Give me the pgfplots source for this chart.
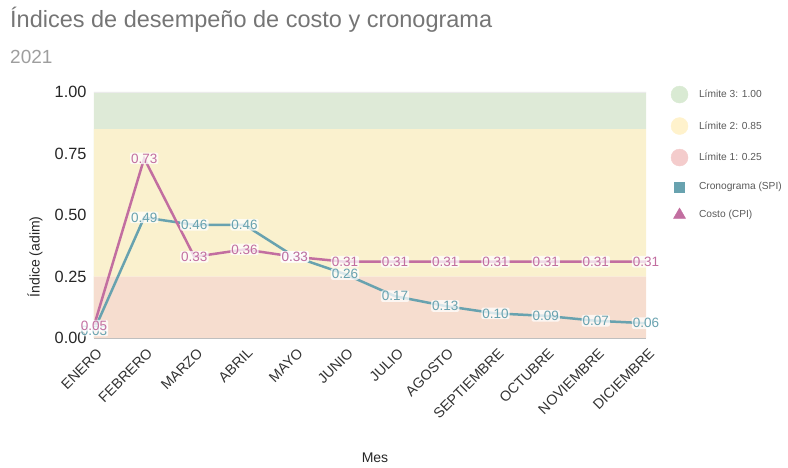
\documentclass[border=0pt]{standalone}
\usepackage{pgfplots}
\pgfplotsset{compat=1.18}
\usepackage{pgfplotstable}
\usepackage{fontspec}
\setmainfont{Liberation Sans}
\definecolor{spi}{RGB}{104,162,175}
\definecolor{cpi}{RGB}{194,110,160}
\definecolor{bgreen}{RGB}{222,234,215}
\definecolor{byellow}{RGB}{250,241,206}
\definecolor{bpink}{RGB}{246,221,207}
\definecolor{lgreen}{RGB}{217,234,211}
\definecolor{lyellow}{RGB}{255,242,204}
\definecolor{lpink}{RGB}{244,204,204}
\definecolor{titlegray}{RGB}{117,117,117}
\definecolor{subgray}{RGB}{158,158,158}
\pgfplotstableread{
x y
0 0.03
1 0.49
2 0.46
3 0.46
4 0.33
5 0.26
6 0.17
7 0.13
8 0.10
9 0.09
10 0.07
11 0.06
}\spi
\pgfplotstableread{
x y
0 0.05
1 0.73
2 0.33
3 0.36
4 0.33
5 0.31
6 0.31
7 0.31
8 0.31
9 0.31
10 0.31
11 0.31
}\cpi
\begin{document}
\begin{tikzpicture}
\path[use as bounding box] (0pt,0pt) rectangle (788pt,468pt);
\begin{axis}[
  at={(94pt,130pt)}, anchor=south west,
  scale only axis, width=552pt, height=246pt,
  xmin=0, xmax=11, ymin=0, ymax=1,
  xtick={0,...,11},
  xticklabels={ENERO,FEBRERO,MARZO,ABRIL,MAYO,JUNIO,JULIO,AGOSTO,SEPTIEMBRE,OCTUBRE,NOVIEMBRE,DICIEMBRE},
  xticklabel style={xshift=2pt, yshift=-9pt, rotate=45, anchor=north east, font=\fontsize{14.3}{16}\selectfont, text=black!80, inner sep=0pt},
  ytick={0,0.25,0.5,0.75,1},
  yticklabel style={font=\fontsize{16.3}{18}\selectfont, text=black!85, xshift=-4pt,
    /pgf/number format/fixed, /pgf/number format/fixed zerofill, /pgf/number format/precision=2, /pgf/number format/assume math mode=true},
  major tick length=0pt,
  axis x line=bottom, axis y line=left,
  x axis line style={-, draw=black!25, line width=0.8pt},
  y axis line style={draw=none},
  clip=false,
  legend style={at={(1.045,1.025)}, anchor=north west, draw=none, fill=none,
    font=\fontsize{10.2}{12}\selectfont, text=black!65, row sep=14.5pt, inner sep=0pt,
    /tikz/every odd column/.append style={column sep=9pt}},
  legend cell align=left,
]
% bands
\addplot[draw=none, fill=bpink, forget plot] coordinates {(0,0) (11,0) (11,0.25) (0,0.25)} \closedcycle;
\addplot[draw=none, fill=byellow, forget plot] coordinates {(0,0.25) (11,0.25) (11,0.85) (0,0.85)} \closedcycle;
\addplot[draw=none, fill=bgreen, forget plot] coordinates {(0,0.85) (11,0.85) (11,1) (0,1)} \closedcycle;
\addplot[draw=black!8, line width=0.5pt, forget plot] coordinates {(0,1) (11,1)};
% legend images
\addlegendimage{only marks, mark=*, mark size=8.5pt, lgreen}
\addlegendentry{Límite 3: 1.00}
\addlegendimage{only marks, mark=*, mark size=8.5pt, lyellow}
\addlegendentry{Límite 2: 0.85}
\addlegendimage{only marks, mark=*, mark size=8.5pt, lpink}
\addlegendentry{Límite 1: 0.25}
\addlegendimage{only marks, mark=square*, mark size=5pt, spi}
\addlegendentry{Cronograma (SPI)}
\addlegendimage{only marks, mark=triangle*, mark size=7pt, cpi}
\addlegendentry{Costo (CPI)}
% lines
\addplot[spi, line width=2.5pt, mark=none, forget plot] table[x=x,y=y] {\spi};
\addplot[cpi, line width=2.5pt, mark=none, forget plot] table[x=x,y=y] {\cpi};
% labels
\addplot[draw=none, mark=none, forget plot,
  nodes near coords, point meta=y,
  nodes near coords style={anchor=center, text=spi, font=\fontsize{13.5}{15}\selectfont,
    fill=white, fill opacity=0.75, text opacity=1, inner sep=1pt, rounded corners=2pt,
    /pgf/number format/fixed, /pgf/number format/fixed zerofill, /pgf/number format/precision=2, /pgf/number format/assume math mode=true}]
  table[x=x,y=y] {\spi};
\addplot[draw=none, mark=none, forget plot,
  nodes near coords, point meta=y,
  nodes near coords style={anchor=center, text=cpi, font=\fontsize{13.5}{15}\selectfont,
    fill=white, fill opacity=0.75, text opacity=1, inner sep=1pt, rounded corners=2pt,
    /pgf/number format/fixed, /pgf/number format/fixed zerofill, /pgf/number format/precision=2, /pgf/number format/assume math mode=true}]
  table[x=x,y=y] {\cpi};
\end{axis}
\node[anchor=base west, inner sep=0pt, text=titlegray, font=\fontsize{23.5}{28}\selectfont] at (10pt,440pt) {Índices de desempeño de costo y cronograma};
\node[anchor=base west, inner sep=0pt, text=subgray, font=\fontsize{19}{22}\selectfont] at (10pt,404pt) {2021};
\node[rotate=90, inner sep=0pt, font=\fontsize{14}{16}\selectfont, text=black!85] at (35pt,211pt) {Índice (adim)};
\node[inner sep=0pt, font=\fontsize{14}{16}\selectfont, text=black!85] at (375pt,10pt) {Mes};
\end{tikzpicture}
\end{document}
